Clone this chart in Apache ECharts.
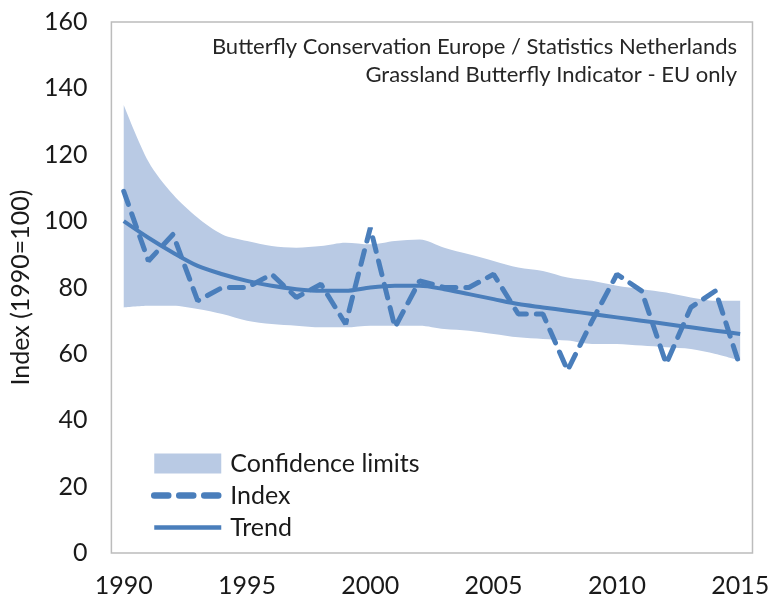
<!DOCTYPE html>
<html><head><meta charset="utf-8">
<script src="https://cdn.jsdelivr.net/npm/echarts@6/dist/echarts.min.js"></script>
<style>html,body{margin:0;padding:0;background:#fff}#c{width:772px;height:601px}</style>
</head><body><div id="c"></div>
<script>
var years = ['1990','1991','1992','1993','1994','1995','1996','1997','1998','1999','2000','2001','2002','2003','2004','2005','2006','2007','2008','2009','2010','2011','2012','2013','2014','2015'];
var indexValues = [109,88,96,76,80,80,84,77,81,69,98,68,82,80,80,84,72,72,55,70,84,79,57,74,79,56];
var trendValues = [100,95,90.5,86.5,84,82,80.5,79.5,79,79,80,80.5,80.5,79.5,78,76.5,75,74,73,72,71,70,69,68,67,66];
var upperValues = [135,118,108,101,96,94,92.5,92,92.5,93.5,93,94,94.5,92,90,88,86,85,83,82,80.5,79.5,78.5,77,76,76];
var lowerValues = [74,74.5,74.5,73.5,72,70,69,68.5,68,68,68.5,68.5,68.5,67.5,67,66,65,64.5,64,63,63,62.5,62,61.5,60,58];
var yTicks = {min: 0, max: 160, interval: 20};
var sourceLines = ['Butterfly Conservation Europe / Statistics Netherlands', 'Grassland Butterfly Indicator - EU only'];

var bandWidth = upperValues.map(function(u, i){ return +(u - lowerValues[i]).toFixed(2); });
var lineColor = '#4a7ebb';
var bandColor = '#b9cae4';
var font = 'Lato';

var chart = echarts.init(document.getElementById('c'), null, {renderer: 'canvas'});
chart.setOption({
  animation: false,
  textStyle: {fontFamily: font},
  title: sourceLines.map(function(t, i){
    return {text: t, right: 30, top: 31 + i * 28, textStyle: {fontSize: 22, fontWeight: 'normal', color: '#262626', fontFamily: font}};
  }),
  grid: {left: 107, right: 15, top: 22, bottom: 48, show: true, borderColor: '#bcbcbc', borderWidth: 1.5},
  legend: {
    orient: 'vertical', left: 146, top: 446, itemWidth: 67, itemHeight: 20, itemGap: 7,
    textStyle: {fontSize: 25, color: '#1a1a1a', fontFamily: font, padding: [0, 0, 0, 4]},
    itemStyle: {opacity: 0},
    data: [
      {name: 'Confidence limits', icon: 'rect', itemStyle: {opacity: 1, color: bandColor}},
      {name: 'Index', lineStyle: {width: 6.5, type: [14, 11], cap: 'round'}},
      {name: 'Trend', lineStyle: {width: 4.5}}
    ]
  },
  xAxis: {
    type: 'category', data: years, boundaryGap: true,
    axisLine: {show: false}, axisTick: {show: false},
    axisLabel: {interval: 4, fontSize: 25, color: '#1a1a1a', margin: 20}
  },
  yAxis: {
    type: 'value', min: yTicks.min, max: yTicks.max, interval: yTicks.interval,
    splitLine: {show: false}, axisLine: {show: false}, axisTick: {show: false},
    axisLabel: {fontSize: 25, color: '#1a1a1a', margin: 24},
    name: 'Index (1990=100)', nameLocation: 'middle', nameGap: 78, nameRotate: 90,
    nameTextStyle: {fontSize: 25, color: '#1a1a1a'}
  },
  series: [
    {name: 'lower', type: 'line', data: lowerValues, stack: 'band', smooth: 0.3, symbol: 'none',
     lineStyle: {opacity: 0}, silent: true},
    {name: 'Confidence limits', type: 'line', data: bandWidth, stack: 'band', smooth: 0.3, symbol: 'none',
     lineStyle: {opacity: 0, width: 0}, itemStyle: {color: bandColor}, areaStyle: {color: bandColor, opacity: 1}},
    {name: 'Index', type: 'line', data: indexValues, symbol: 'none', z: 4,
     itemStyle: {color: lineColor},
     lineStyle: {color: lineColor, width: 5, type: [14, 10], cap: 'round'}},
    {name: 'Trend', type: 'line', data: trendValues, symbol: 'none', smooth: 0.3, z: 5,
     itemStyle: {color: lineColor},
     lineStyle: {color: lineColor, width: 4}}
  ]
});
</script></body></html>
